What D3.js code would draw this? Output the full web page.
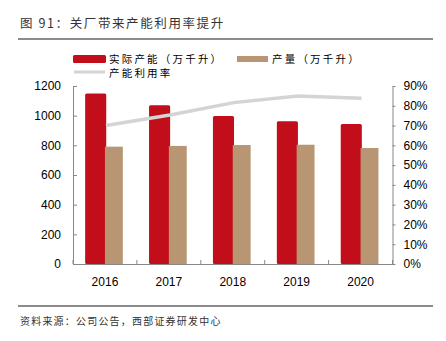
<html>
<head>
<meta charset="utf-8">
<script src="https://d3js.org/d3.v7.min.js"></script>
<style>
  body { margin: 0; background: #fff; }
  .cn { font-family: "Noto Sans CJK SC", sans-serif; }
  .tick text { font-family: "Liberation Sans", Arial, sans-serif; font-size: 12px; fill: #000; }
</style>
</head>
<body>
<div id="chart"></div>
<script>
var years = ["2016", "2017", "2018", "2019", "2020"];
var capacity = [1150, 1070, 998, 962, 944];     // 实际产能（万千升）
var output = [791, 796, 802, 804, 782];          // 产量（万千升）
var utilization = [0.70, 0.753, 0.816, 0.849, 0.838]; // 产能利用率
var leftTicks = [0, 200, 400, 600, 800, 1000, 1200];
var rightTicks = [0, 0.1, 0.2, 0.3, 0.4, 0.5, 0.6, 0.7, 0.8, 0.9];

var W = 446, H = 341;
var margin = {top: 86, right: 53.5, bottom: 77, left: 73};
var width = W - margin.left - margin.right,
    height = H - margin.top - margin.bottom;

var svg = d3.select("#chart").append("svg")
    .attr("width", W).attr("height", H);

// title
svg.append("text").attr("class", "cn")
    .attr("x", 20).attr("y", 28)
    .style("font-size", "12.5px").style("letter-spacing", "1.6px").attr("fill", "#333")
    .text("图 91：关厂带来产能利用率提升");
svg.append("line").attr("x1", 18).attr("x2", 433).attr("y1", 39).attr("y2", 39)
    .attr("stroke", "#666").attr("stroke-width", 1.5);

// legend
var leg = svg.append("g").attr("class", "cn").style("font-size", "10.5px").style("letter-spacing", "2.2px");
leg.append("rect").attr("x", 73).attr("y", 55).attr("width", 33).attr("height", 8).attr("rx", 1.5).attr("fill", "#c20e1a");
leg.append("text").attr("x", 109).attr("y", 62.5).text("实际产能（万千升）");
leg.append("rect").attr("x", 237).attr("y", 56).attr("width", 31).attr("height", 6).attr("fill", "#b89673");
leg.append("text").attr("x", 272).attr("y", 62.5).text("产量（万千升）");
leg.append("line").attr("x1", 74).attr("x2", 105).attr("y1", 72).attr("y2", 72)
    .attr("stroke", "#d4d4d4").attr("stroke-width", 3);
leg.append("text").attr("x", 109).attr("y", 76.5).text("产能利用率");

var g = svg.append("g").attr("transform", "translate(" + margin.left + "," + margin.top + ")");

var x = d3.scaleBand().domain(years).range([0, width]);
var y = d3.scaleLinear().domain([0, 1200]).range([height, 0]);
var y2 = d3.scaleLinear().domain([0, 0.9]).range([height, 0]);

// bars
var bw = x.bandwidth();
g.selectAll(".cap").data(capacity).enter().append("rect")
    .attr("x", function(d, i) { return x(years[i]) + bw * 0.19; })
    .attr("y", function(d) { return y(d); })
    .attr("width", bw * 0.33)
    .attr("height", function(d) { return height - y(d); })
    .attr("rx", 1.5)
    .attr("fill", "#c20e1a");
g.selectAll(".out").data(output).enter().append("rect")
    .attr("x", function(d, i) { return x(years[i]) + bw * 0.5; })
    .attr("y", function(d) { return y(d); })
    .attr("width", bw * 0.28)
    .attr("height", function(d) { return height - y(d); })
    .attr("fill", "#b89673");

// line
var line = d3.line()
    .x(function(d, i) { return x(years[i]) + bw / 2 + 1; })
    .y(function(d) { return y2(d); });
g.append("path").datum(utilization)
    .attr("fill", "none").attr("stroke", "#d4d4d4").attr("stroke-width", 3.5)
    .attr("d", line);

// axes
var axisColor = "#888";
var gl = g.append("g").call(d3.axisLeft(y).tickValues(leftTicks).tickFormat(d3.format("d"))
    .tickSizeInner(-4).tickSizeOuter(0).tickPadding(12));
var gr = g.append("g").attr("transform", "translate(" + width + ",0)")
    .call(d3.axisRight(y2).tickValues(rightTicks).tickFormat(d3.format(".0%")).tickSizeInner(3).tickSizeOuter(0).tickPadding(8));
var gb = g.append("g").attr("transform", "translate(0," + height + ")")
    .call(d3.axisBottom(x).tickSize(0).tickPadding(13));
[gl, gr, gb].forEach(function(a) {
    a.select(".domain").attr("stroke", axisColor);
    a.selectAll(".tick line").attr("stroke", axisColor);
});
// category separators on x axis
g.selectAll(".sep").data(d3.range(years.length + 1)).enter().append("line")
    .attr("x1", function(i) { return i * bw; }).attr("x2", function(i) { return i * bw; })
    .attr("y1", height - 4).attr("y2", height)
    .attr("stroke", axisColor);

// footer
svg.append("line").attr("x1", 18).attr("x2", 433).attr("y1", 306).attr("y2", 306)
    .attr("stroke", "#666").attr("stroke-width", 1.5);
svg.append("text").attr("class", "cn")
    .attr("x", 20).attr("y", 325)
    .style("font-size", "10px").style("letter-spacing", "1.2px").attr("fill", "#333")
    .text("资料来源：公司公告，西部证券研发中心");
</script>
</body>
</html>
